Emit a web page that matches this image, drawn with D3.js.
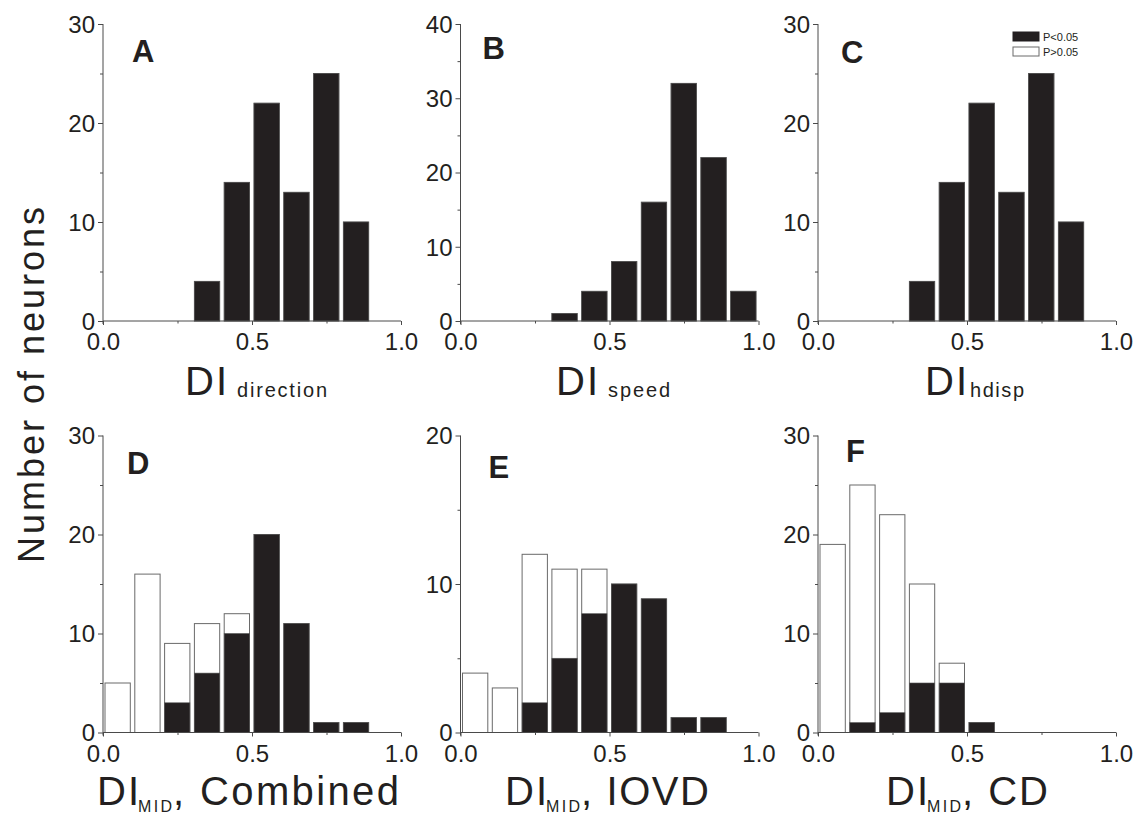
<!DOCTYPE html>
<html>
<head>
<meta charset="utf-8">
<script src="https://cdn.jsdelivr.net/npm/d3@7"></script>
<style>
  html, body { margin: 0; padding: 0; background: #fff; }
  svg { display: block; font-family: "Liberation Sans", Arial, sans-serif; }
</style>
</head>
<body>
<svg id="fig" width="1138" height="815"></svg>
<script>
// Lower edges of the 0.1-wide histogram bins
const binLo = [0.0, 0.1, 0.2, 0.3, 0.4, 0.5, 0.6, 0.7, 0.8, 0.9];

// Neuron counts per bin (significant = P<0.05, total = all neurons)
const directionSig   = [0, 0, 0, 4, 14, 22, 13, 25, 10, 0];
const speedSig       = [0, 0, 0, 1, 4, 8, 16, 32, 22, 4];
const hdispSig       = [0, 0, 0, 4, 14, 22, 13, 25, 10, 0];
const combinedTotal  = [5, 16, 9, 11, 12, 20, 11, 1, 1, 0];
const combinedSig    = [0, 0, 3, 6, 10, 20, 11, 1, 1, 0];
const iovdTotal      = [4, 3, 12, 11, 11, 10, 9, 1, 1, 0];
const iovdSig        = [0, 0, 2, 5, 8, 10, 9, 1, 1, 0];
const cdTotal        = [19, 25, 22, 15, 7, 1, 0, 0, 0, 0];
const cdSig          = [0, 1, 2, 5, 5, 1, 0, 0, 0, 0];

// Axis settings
const panelLetters = ["A", "B", "C", "D", "E", "F"];
const yMaxima      = [30, 40, 30, 30, 20, 30];
const xMajorTicks  = [0, 0.5, 1.0];
const xMinorTicks  = [0.25, 0.75];
const xTickLabels  = ["0.0", "0.5", "1.0"];
const legendLabels = ["P<0.05", "P>0.05"];
const yAxisTitle   = "Number of neurons";

const panelTotals = [directionSig, speedSig, hdispSig, combinedTotal, iovdTotal, cdTotal];
const panelSigs   = [directionSig, speedSig, hdispSig, combinedSig, iovdSig, cdSig];

// Layout
const colX = [103, 460.5, 818];
const rowY = [24, 435.5];
const plotW = 298, plotH = 297;
const ink = "#231f20", axisCol = "#4a4a4a";

const svg = d3.select("#fig");

// Letter offsets for the panel tags
const letterPos = [[29, 38], [22, 35], [23, 39], [24, 38], [28, 42], [28, 26]];

panelLetters.forEach((letter, i) => {
  const col = i % 3, row = Math.floor(i / 3);
  const x0 = colX[col], y0 = rowY[row];
  const g = svg.append("g").attr("transform", `translate(${x0},${y0})`);

  const x = d3.scaleLinear().domain([0, 1]).range([0, plotW]);
  const y = d3.scaleLinear().domain([0, yMaxima[i]]).range([plotH, 0]);
  const binW = x(0.1) - x(0);

  const bars = binLo.map((lo, k) => ({ lo, total: panelTotals[i][k], sig: panelSigs[i][k] }))
                    .filter(d => d.total > 0);

  // open bars: all neurons in bin
  g.selectAll("rect.total").data(bars).join("rect")
    .attr("class", "total")
    .attr("x", d => x(d.lo) + 2)
    .attr("width", binW - 4.5)
    .attr("y", d => y(d.total))
    .attr("height", d => y(0) - y(d.total))
    .attr("fill", "#fff")
    .attr("stroke", "#6a6a6a")
    .attr("stroke-width", 1);

  // filled bars: significant neurons
  g.selectAll("rect.sig").data(bars.filter(d => d.sig > 0)).join("rect")
    .attr("class", "sig")
    .attr("x", d => x(d.lo) + 2)
    .attr("width", binW - 4.5)
    .attr("y", d => y(d.sig))
    .attr("height", d => y(0) - y(d.sig))
    .attr("fill", ink)
    .attr("stroke", "#555")
    .attr("stroke-width", 0.6);

  // x axis
  const xAxis = d3.axisBottom(x).tickValues(xMajorTicks).tickSize(4)
    .tickFormat((d, k) => xTickLabels[k]);
  const gx = g.append("g").attr("transform", `translate(0,${plotH})`).call(xAxis);
  gx.select(".domain").attr("d", `M0,0H${plotW}`).attr("stroke", axisCol);
  gx.selectAll(".tick line").attr("stroke", axisCol);
  gx.selectAll(".tick text").attr("y", 29).attr("dy", null)
    .attr("font-size", 24).attr("fill", ink)
    .attr("font-family", "Liberation Sans, Arial, sans-serif");
  const xMinor = d3.axisBottom(x).tickValues(xMinorTicks).tickSize(2.5).tickFormat("");
  const gxm = g.append("g").attr("transform", `translate(0,${plotH})`).call(xMinor);
  gxm.select(".domain").remove();
  gxm.selectAll(".tick line").attr("stroke", axisCol);

  // y axis
  const yMajor = d3.range(0, yMaxima[i] + 1, 10);
  const yMinor = d3.range(5, yMaxima[i], 10);
  const yAxis = d3.axisLeft(y).tickValues(yMajor).tickSize(5).tickFormat(d3.format("d"));
  const gy = g.append("g").call(yAxis);
  gy.select(".domain").attr("d", `M0,0V${plotH + 3}`).attr("stroke", axisCol);
  gy.selectAll(".tick line").attr("stroke", axisCol);
  gy.selectAll(".tick text").attr("x", -8).attr("dy", "0.35em")
    .attr("font-size", 24).attr("fill", ink)
    .attr("font-family", "Liberation Sans, Arial, sans-serif");
  const gym = g.append("g").call(d3.axisLeft(y).tickValues(yMinor).tickSize(3).tickFormat(""));
  gym.select(".domain").remove();
  gym.selectAll(".tick line").attr("stroke", axisCol);

  // panel tag
  g.append("text")
    .attr("x", letterPos[i][0]).attr("y", letterPos[i][1])
    .attr("font-size", 31).attr("font-weight", "bold").attr("fill", ink)
    .text(letter);
});

// x axis titles, top row: DI with a lowercase subscript
const topTitles = [
  { sub: "direction", x: 185, subX: 237, subW: 90 },
  { sub: "speed",     x: 556, subX: 608, subW: 62 },
  { sub: "hdisp",     x: 925, subX: 970, subW: 54 }
];
topTitles.forEach(t => {
  svg.append("text").attr("x", t.x).attr("y", 395)
    .attr("font-size", 40).attr("fill", ink).attr("letter-spacing", 2).text("DI");
  svg.append("text").attr("x", t.subX).attr("y", 397)
    .attr("font-size", 20).attr("fill", ink)
    .attr("textLength", t.subW).attr("lengthAdjust", "spacing").text(t.sub);
});

// x axis titles, bottom row: DI_MID, followed by the cue name
const bottomTitles = [
  { rest: ", Combined", x: 97,  restW: 226 },
  { rest: ", IOVD",     x: 505, restW: 128 },
  { rest: ", CD",       x: 886, restW: 86 }
];
bottomTitles.forEach(t => {
  svg.append("text").attr("x", t.x).attr("y", 805)
    .attr("font-size", 40).attr("fill", ink).attr("letter-spacing", 2).text("DI");
  svg.append("text").attr("x", t.x + 41).attr("y", 812)
    .attr("font-size", 16).attr("fill", ink)
    .attr("textLength", 34).attr("lengthAdjust", "spacing").text("MID");
  svg.append("text").attr("x", t.x + 76).attr("y", 805)
    .attr("font-size", 40).attr("fill", ink)
    .attr("textLength", t.restW).attr("lengthAdjust", "spacing").text(t.rest);
});

// shared y axis title
svg.append("text")
  .attr("transform", "translate(44,385) rotate(-90)")
  .attr("text-anchor", "middle")
  .attr("font-size", 36).attr("fill", ink)
  .attr("textLength", 356).attr("lengthAdjust", "spacing")
  .text(yAxisTitle);

// legend in panel C
const legend = svg.append("g").attr("transform", "translate(1013,32)");
legendLabels.forEach((lab, k) => {
  legend.append("rect")
    .attr("x", 0).attr("y", k * 15).attr("width", 26).attr("height", 9)
    .attr("fill", k === 0 ? ink : "#fff")
    .attr("stroke", k === 0 ? ink : "#6a6a6a").attr("stroke-width", 1);
  legend.append("text")
    .attr("x", 30).attr("y", k * 15 + 9)
    .attr("font-size", 11).attr("fill", ink).text(lab);
});
</script>
</body>
</html>
